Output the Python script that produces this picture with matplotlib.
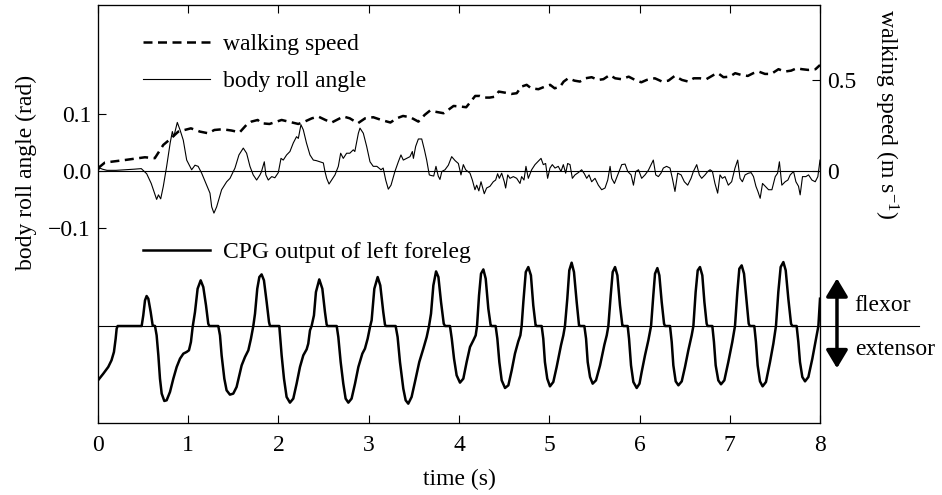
import numpy as np
from matplotlib import pyplot as plt
from matplotlib.lines import Line2D

plt.rcParams['font.family'] = ['Liberation Serif', 'DejaVu Serif']
plt.rcParams['font.size'] = 17
plt.rcParams['mathtext.fontset'] = 'custom'
plt.rcParams['mathtext.rm'] = 'Liberation Serif'
plt.rcParams['mathtext.it'] = 'Liberation Serif:italic'

# body roll angle (rad)
roll_t = [0.00, 0.02, 0.05, 0.10, 0.20, 0.30, 0.40, 0.48, 0.54, 0.59, 0.65, 0.67, 0.695, 0.724,
          0.761, 0.80, 0.824, 0.84, 0.879, 0.909, 0.945, 0.983, 1.038, 1.075, 1.11, 1.149, 1.204,
          1.241, 1.26, 1.285, 1.315, 1.37, 1.426, 1.463, 1.518, 1.562, 1.61, 1.647, 1.684, 1.72,
          1.758, 1.795, 1.81, 1.843, 1.86, 1.887, 1.925, 1.96, 1.998, 2.028, 2.053, 2.09, 2.127,
          2.164, 2.20, 2.22, 2.249, 2.275, 2.31, 2.349, 2.386, 2.42, 2.46, 2.497, 2.515, 2.534,
          2.56, 2.589, 2.626, 2.663, 2.689, 2.718, 2.755, 2.79, 2.829, 2.846, 2.885, 2.903, 2.94,
          2.977, 3.014, 3.05, 3.09, 3.136, 3.16, 3.188, 3.217, 3.247, 3.29, 3.328, 3.357, 3.383,
          3.42, 3.457, 3.483, 3.495, 3.52, 3.55, 3.587, 3.617, 3.642, 3.671, 3.69, 3.72, 3.745,
          3.77, 3.789, 3.81, 3.845, 3.882, 3.919, 3.957, 3.993, 4.022, 4.048, 4.074, 4.122, 4.148,
          4.177, 4.196, 4.22, 4.244, 4.28, 4.306, 4.343, 4.38, 4.406, 4.428, 4.447, 4.473, 4.502,
          4.517, 4.54, 4.565, 4.602, 4.639, 4.676, 4.694, 4.72, 4.742, 4.768, 4.805, 4.842, 4.872,
          4.909, 4.934, 4.96, 4.982, 5.008, 5.034, 5.064, 5.10, 5.13, 5.156, 5.182, 5.204, 5.23,
          5.256, 5.285, 5.322, 5.359, 5.389, 5.415, 5.441, 5.47, 5.507, 5.544, 5.581, 5.618, 5.648,
          5.674, 5.692, 5.722, 5.766, 5.803, 5.84, 5.87, 5.907, 5.933, 5.959, 5.989, 6.024, 6.061,
          6.098, 6.128, 6.153, 6.18, 6.209, 6.238, 6.264, 6.30, 6.338, 6.364, 6.393, 6.423, 6.461,
          6.497, 6.534, 6.571, 6.597, 6.634, 6.663, 6.689, 6.726, 6.756, 6.782, 6.808, 6.836,
          6.866, 6.892, 6.918, 6.947, 6.984, 7.021, 7.058, 7.088, 7.114, 7.14, 7.17, 7.207, 7.237,
          7.263, 7.29, 7.312, 7.337, 7.363, 7.393, 7.43, 7.467, 7.504, 7.53, 7.55, 7.577, 7.614,
          7.644, 7.67, 7.707, 7.733, 7.762, 7.78, 7.806, 7.843, 7.873, 7.91, 7.947, 7.976, 8.00]
roll_v = [0.000, 0.005, 0.003, 0.001, 0.001, 0.002, 0.003, 0.004, -0.005, -0.022, -0.050, -0.042,
          -0.049, -0.027, 0.008, 0.049, 0.069, 0.060, 0.085, 0.072, 0.054, 0.019, 0.002, 0.010,
          0.008, -0.004, -0.025, -0.039, -0.063, -0.074, -0.063, -0.033, -0.019, -0.013, 0.005,
          0.028, 0.040, 0.031, 0.008, -0.007, -0.016, -0.007, -0.002, 0.016, -0.007, -0.016,
          -0.010, -0.012, -0.003, 0.022, 0.019, 0.028, 0.034, 0.049, 0.060, 0.057, 0.081, 0.072,
          0.049, 0.028, 0.019, 0.018, 0.016, 0.014, -0.001, -0.013, -0.023, -0.016, -0.007, 0.008,
          0.031, 0.022, 0.031, 0.031, 0.037, 0.034, 0.066, 0.075, 0.066, 0.043, 0.016, 0.008,
          0.008, 0.002, 0.005, -0.016, -0.032, -0.025, -0.001, 0.016, 0.028, 0.019, 0.022, 0.025,
          0.034, 0.022, 0.043, 0.056, 0.056, 0.037, 0.019, -0.007, -0.008, -0.009, 0.008, -0.009,
          -0.015, -0.001, 0.002, 0.010, 0.025, 0.018, 0.013, -0.007, 0.011, 0.002, -0.004, -0.016,
          -0.033, -0.025, -0.035, -0.019, -0.040, -0.030, -0.027, -0.019, -0.016, -0.005, -0.013,
          -0.004, -0.019, -0.030, -0.007, -0.013, -0.010, -0.013, -0.022, -0.010, -0.016, 0.008,
          -0.013, 0.002, 0.011, 0.016, 0.022, 0.011, 0.013, -0.013, 0.005, 0.011, 0.005, 0.008,
          -0.001, 0.011, -0.004, 0.013, 0.011, -0.013, -0.007, -0.003, 0.002, -0.005, -0.013,
          -0.007, -0.019, -0.013, -0.025, -0.033, -0.030, -0.016, 0.008, -0.013, -0.022, -0.004,
          0.011, 0.012, -0.001, -0.007, -0.025, -0.001, 0.002, -0.013, -0.007, 0.001, 0.011,
          0.019, -0.007, -0.010, -0.004, 0.005, 0.008, 0.005, -0.013, -0.036, -0.004, -0.007,
          -0.019, -0.025, -0.013, -0.001, 0.011, -0.007, -0.013, -0.007, -0.001, 0.002, -0.001,
          -0.022, -0.039, -0.007, -0.013, -0.010, -0.025, -0.019, 0.005, 0.019, -0.013, -0.019,
          -0.007, -0.004, -0.003, -0.010, -0.027, -0.036, -0.048, -0.022, -0.027, -0.033, -0.033,
          -0.010, -0.004, 0.016, -0.025, -0.019, -0.016, -0.007, -0.001, -0.019, -0.027, -0.042,
          -0.010, -0.010, -0.007, -0.016, -0.019, -0.010, 0.019]

# walking speed (m/s)
speed_t = [0.00, 0.077, 0.30, 0.52, 0.63, 0.724, 0.798, 0.89, 0.96, 1.03, 1.13, 1.22, 1.29, 1.38,
           1.48, 1.57, 1.645, 1.70, 1.77, 1.81, 1.90, 1.98, 2.035, 2.11, 2.22, 2.29, 2.37, 2.44,
           2.52, 2.59, 2.66, 2.72, 2.79, 2.88, 2.96, 3.05, 3.14, 3.24, 3.31, 3.38, 3.46, 3.55,
           3.62, 3.68, 3.73, 3.83, 3.88, 3.94, 4.03, 4.08, 4.13, 4.18, 4.23, 4.29, 4.34, 4.40,
           4.44, 4.51, 4.58, 4.64, 4.69, 4.75, 4.80, 4.88, 4.95, 5.01, 5.06, 5.12, 5.16, 5.21,
           5.28, 5.34, 5.40, 5.47, 5.54, 5.60, 5.67, 5.73, 5.80, 5.88, 5.95, 6.02, 6.08, 6.17,
           6.25, 6.32, 6.39, 6.47, 6.54, 6.60, 6.67, 6.74, 6.82, 6.87, 6.93, 7.00, 7.06, 7.13,
           7.20, 7.26, 7.32, 7.39, 7.46, 7.54, 7.61, 7.68, 7.74, 7.80, 7.87, 7.95, 8.00]
speed_v = [0.015, 0.046, 0.060, 0.075, 0.070, 0.143, 0.174, 0.216, 0.225, 0.234, 0.216, 0.207,
           0.225, 0.229, 0.222, 0.212, 0.253, 0.271, 0.280, 0.262, 0.258, 0.271, 0.280, 0.271,
           0.258, 0.271, 0.289, 0.299, 0.280, 0.266, 0.284, 0.299, 0.289, 0.262, 0.289, 0.295,
           0.280, 0.266, 0.289, 0.302, 0.295, 0.271, 0.308, 0.332, 0.326, 0.317, 0.335, 0.357,
           0.353, 0.350, 0.381, 0.412, 0.412, 0.403, 0.403, 0.408, 0.436, 0.430, 0.423, 0.427,
           0.463, 0.473, 0.454, 0.449, 0.463, 0.473, 0.454, 0.463, 0.491, 0.509, 0.496, 0.491,
           0.509, 0.515, 0.500, 0.504, 0.527, 0.509, 0.504, 0.518, 0.500, 0.487, 0.500, 0.509,
           0.491, 0.496, 0.522, 0.500, 0.491, 0.509, 0.509, 0.504, 0.527, 0.537, 0.515, 0.518,
           0.537, 0.527, 0.522, 0.537, 0.546, 0.533, 0.533, 0.559, 0.546, 0.551, 0.564, 0.559,
           0.555, 0.559, 0.582]

# CPG output of left foreleg (arbitrary units, clipped at 0 during stance)
cpg_t = [0.00, 0.059, 0.114, 0.15, 0.177, 0.196, 0.207, 0.218, 0.484, 0.502, 0.521, 0.539, 0.558,
         0.584, 0.606, 0.632, 0.65, 0.669, 0.687, 0.706, 0.735, 0.761, 0.798, 0.835, 0.872, 0.909,
         0.946, 0.982, 1.008, 1.03, 1.049, 1.075, 1.104, 1.138, 1.167, 1.197, 1.222, 1.234, 1.333,
         1.352, 1.37, 1.40, 1.425, 1.462, 1.499, 1.536, 1.562, 1.592, 1.629, 1.666, 1.695, 1.721,
         1.74, 1.765, 1.788, 1.813, 1.839, 1.869, 1.895, 1.906, 2.009, 2.017, 2.035, 2.061, 2.09,
         2.127, 2.164, 2.201, 2.238, 2.275, 2.312, 2.33, 2.349, 2.367, 2.393, 2.415, 2.452, 2.486,
         2.515, 2.534, 2.545, 2.645, 2.663, 2.689, 2.718, 2.744, 2.774, 2.81, 2.848, 2.885, 2.929,
         2.958, 2.988, 3.014, 3.032, 3.062, 3.099, 3.128, 3.161, 3.18, 3.191, 3.298, 3.32, 3.346,
         3.383, 3.409, 3.438, 3.475, 3.512, 3.56, 3.605, 3.642, 3.668, 3.69, 3.716, 3.746, 3.772,
         3.801, 3.831, 3.846, 3.90, 3.92, 3.945, 3.974, 4.011, 4.048, 4.085, 4.122, 4.159, 4.185,
         4.20, 4.222, 4.244, 4.27, 4.296, 4.325, 4.351, 4.362, 4.406, 4.425, 4.447, 4.473, 4.51,
         4.547, 4.584, 4.62, 4.657, 4.68, 4.694, 4.713, 4.74, 4.768, 4.797, 4.823, 4.849, 4.86,
         4.916, 4.934, 4.952, 4.978, 5.008, 5.045, 5.082, 5.13, 5.156, 5.174, 5.20, 5.222, 5.248,
         5.274, 5.304, 5.33, 5.341, 5.389, 5.408, 5.426, 5.452, 5.481, 5.518, 5.563, 5.611, 5.637,
         5.655, 5.681, 5.703, 5.729, 5.755, 5.784, 5.81, 5.821, 5.869, 5.884, 5.906, 5.932, 5.969,
         6.00, 6.024, 6.061, 6.098, 6.128, 6.153, 6.172, 6.198, 6.22, 6.246, 6.272, 6.283, 6.338,
         6.357, 6.375, 6.401, 6.431, 6.468, 6.504, 6.541, 6.578, 6.597, 6.622, 6.645, 6.67, 6.696,
         6.719, 6.744, 6.755, 6.807, 6.825, 6.844, 6.873, 6.903, 6.94, 6.984, 7.028, 7.058, 7.084,
         7.106, 7.132, 7.158, 7.188, 7.21, 7.223, 7.272, 7.29, 7.309, 7.335, 7.364, 7.401, 7.446,
         7.483, 7.512, 7.538, 7.564, 7.594, 7.62, 7.649, 7.679, 7.693, 7.741, 7.76, 7.778, 7.804,
         7.834, 7.871, 7.915, 7.952, 7.982, 8.00]
cpg_v = [-0.85, -0.745, -0.64, -0.536, -0.406, -0.198, -0.042, 0.0, 0.0, 0.167, 0.40, 0.469, 0.427,
         0.219, 0.01, 0.0, -0.146, -0.458, -0.823, -1.057, -1.172, -1.161, -1.031, -0.823, -0.641,
         -0.51, -0.432, -0.406, -0.38, -0.25, -0.016, 0.219, 0.583, 0.714, 0.609, 0.323, 0.036, 0.0,
         0.0, -0.146, -0.458, -0.823, -1.005, -1.073, -1.057, -0.953, -0.797, -0.615, -0.484, -0.38,
         -0.198, 0.0, 0.193, 0.583, 0.766, 0.807, 0.714, 0.375, 0.0625, 0.0, 0.0, -0.146, -0.458,
         -0.823, -1.109, -1.198, -1.135, -0.901, -0.641, -0.458, -0.365, -0.276, -0.068, 0.0, 0.167,
         0.531, 0.729, 0.583, 0.219, 0.021, 0.0, 0.0, -0.172, -0.5625, -0.901, -1.135, -1.198,
         -1.135, -0.901, -0.641, -0.432, -0.354, -0.198, -0.016, 0.089, 0.583, 0.766, 0.635, 0.219,
         0.021, 0.0, 0.0, -0.172, -0.5625, -0.979, -1.161, -1.214, -1.109, -0.875, -0.5625, -0.354,
         -0.172, 0.0, 0.193, 0.635, 0.854, 0.766, 0.375, 0.036, 0.0, 0.0, -0.198, -0.51, -0.771,
         -0.885, -0.823, -0.5625, -0.328, -0.224, -0.146, 0.0, 0.479, 0.818, 0.885, 0.74, 0.271,
         0.01, 0.0, 0.0, -0.198, -0.5625, -0.849, -0.969, -0.927, -0.693, -0.432, -0.24, -0.146,
         0.0, 0.375, 0.844, 0.922, 0.792, 0.323, 0.01, 0.0, 0.0, -0.198, -0.5625, -0.823, -0.943,
         -0.875, -0.641, -0.302, -0.146, 0.0, 0.427, 0.87, 0.99, 0.844, 0.375, 0.01, 0.0, 0.0,
         -0.198, -0.5625, -0.797, -0.901, -0.849, -0.615, -0.292, -0.146, 0.0, 0.479, 0.844, 0.922,
         0.792, 0.323, 0.01, 0.0, 0.0, -0.198, -0.615, -0.875, -0.969, -0.901, -0.719, -0.458,
         -0.224, 0.0, 0.479, 0.818, 0.906, 0.792, 0.375, 0.036, 0.0, 0.0, -0.25, -0.615, -0.865,
         -0.927, -0.865, -0.641, -0.38, -0.146, 0.0, 0.531, 0.87, 0.922, 0.792, 0.375, 0.036, 0.0,
         0.0, -0.25, -0.615, -0.849, -0.911, -0.849, -0.5625, -0.25, 0.0, 0.531, 0.896, 0.948,
         0.818, 0.375, 0.036, 0.0, 0.0, -0.25, -0.615, -0.865, -0.943, -0.875, -0.5625, -0.276,
         0.0, 0.531, 0.922, 1.0, 0.87, 0.427, 0.036, 0.0, 0.0, -0.25, -0.5625, -0.797, -0.865,
         -0.797, -0.51, -0.224, 0.0, 0.427]

time_ticks = [0, 1, 2, 3, 4, 5, 6, 7, 8]
roll_ticks = [0.1, 0.0, -0.1]
roll_ticklabels = ['0.1', '0.0', '\u22120.1']
speed_ticks = [0.5, 0]
speed_ticklabels = ['0.5', '0']


def main():
    fig = plt.figure(figsize=(9.42, 4.95), dpi=100)
    ax = fig.add_axes([0.104, 0.1455, 0.7665, 0.8445])
    ax2 = ax.twinx()
    ax3 = ax.twinx()

    for a in (ax, ax2, ax3):
        for s in a.spines.values():
            s.set_linewidth(0.8)

    # body roll angle
    ax.plot(roll_t, roll_v, color='black', lw=0.8)
    ax.axhline(0, color='black', lw=0.8)
    ax.set_xlim(0, 8)
    ax.set_ylim(-0.442, 0.291)
    ax.set_xticks(time_ticks)
    ax.set_yticks(roll_ticks)
    ax.set_yticklabels(roll_ticklabels)
    ax.tick_params(direction='in', top=True, length=6, width=0.8, labelsize=17)
    ax.tick_params(axis='y', pad=5)
    ax.tick_params(axis='x', pad=9)
    ax.set_xlabel('time (s)', fontsize=17, labelpad=9)
    ax.set_ylabel('body roll angle (rad)', fontsize=17)
    ax.yaxis.set_label_coords(-0.0845, 0.6)

    # walking speed
    ax2.plot(speed_t, speed_v, color='black', lw=1.8, dashes=(3.6, 2.2))
    ax2.set_ylim(-1.385, 0.912)
    ax2.set_yticks(speed_ticks)
    ax2.set_yticklabels(speed_ticklabels)
    ax2.tick_params(direction='in', length=6, width=0.8, labelsize=17, pad=5)
    ax2.set_ylabel('walking speed (m s$^{-1}$)', fontsize=17, rotation=-90)
    ax2.yaxis.set_label_coords(1.111, 0.74)

    # CPG output
    ax3.plot(cpg_t, cpg_v, color='black', lw=1.8)
    ax3.axhline(0, xmin=0, xmax=1.137, color='black', lw=0.8, clip_on=False)
    ax3.set_ylim(-1.516, 5.02)
    ax3.set_yticks([])

    ax3.annotate('', xy=(1.0235, 0.745), xytext=(1.0235, -0.66),
                 xycoords=('axes fraction', 'data'), textcoords=('axes fraction', 'data'),
                 annotation_clip=False,
                 arrowprops=dict(arrowstyle='<|-|>,head_length=0.55,head_width=0.33',
                                 mutation_scale=20, lw=2.5, color='black',
                                 shrinkA=0, shrinkB=0))
    ax3.text(1.048, 0.325, 'flexor', transform=ax3.get_yaxis_transform(),
             ha='left', va='center', fontsize=17)
    ax3.text(1.048, -0.36, 'extensor', transform=ax3.get_yaxis_transform(),
             ha='left', va='center', fontsize=17)

    leg1 = ax3.legend([Line2D([], [], color='black', lw=1.8, dashes=(3.6, 2.2)),
                       Line2D([], [], color='black', lw=0.8)],
                      ['walking speed', 'body roll angle'],
                      loc='upper left', bbox_to_anchor=(0.062, 0.932), frameon=False,
                      borderpad=0, borderaxespad=0, handlelength=2.84, handletextpad=0.55,
                      labelspacing=0.66, fontsize=17)
    ax3.add_artist(leg1)
    ax3.legend([Line2D([], [], color='black', lw=1.8)], ['CPG output of left foreleg'],
               loc='upper left', bbox_to_anchor=(0.062, 0.434), frameon=False,
               borderpad=0, borderaxespad=0, handlelength=2.84, handletextpad=0.55,
               fontsize=17)

    plt.savefig('out.png', dpi=100)
    plt.close(fig)


if __name__ == "__main__":
    main()
